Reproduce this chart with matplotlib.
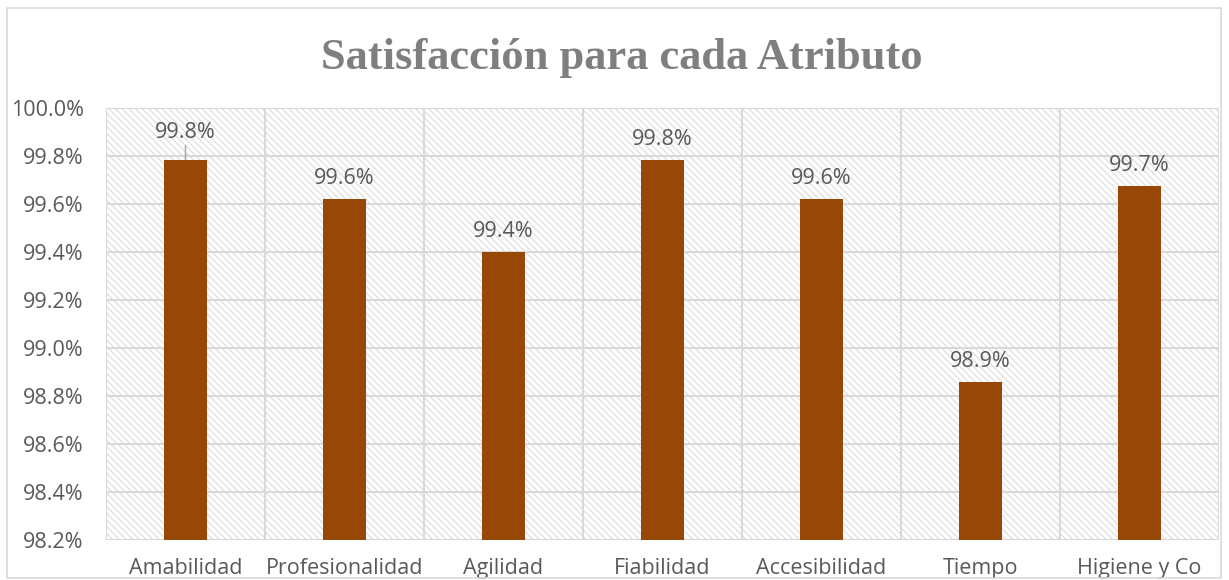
import matplotlib.pyplot as plt
from matplotlib.patches import Rectangle
from matplotlib.ticker import FuncFormatter

categories = ["Amabilidad", "Profesionalidad", "Agilidad", "Fiabilidad",
              "Accesibilidad", "Tiempo", "Higiene y Co"]
values = [99.785, 99.62, 99.40, 99.785, 99.62, 98.86, 99.675]
labels = ["99.8%", "99.6%", "99.4%", "99.8%", "99.6%", "98.9%", "99.7%"]
yticks = [98.2, 98.4, 98.6, 98.8, 99.0, 99.2, 99.4, 99.6, 99.8, 100.0]

plt.rcParams['font.family'] = ['Open Sans', 'DejaVu Sans']
plt.rcParams['hatch.linewidth'] = 0.9
text_col = "#595959"
grid_col = "#d9d9d9"
fs = 15.5

fig = plt.figure(figsize=(12.29, 5.8), dpi=100)
fig.patches.append(Rectangle((7/1229, 2/580), 1214/1229, 570/580,
                             transform=fig.transFigure, fill=False,
                             edgecolor=grid_col, linewidth=1.2))
ax = fig.add_axes([106/1229, 40/580, 1113/1229, 432/580])

x = list(range(len(categories)))
ax.set_xlim(-0.5, len(categories) - 0.5)
ax.set_ylim(98.2, 100.0)

# hatched background
ax.add_patch(Rectangle((0, 0), 1, 1, transform=ax.transAxes, facecolor="white",
                       edgecolor="#dedede", hatch="\\" * 5, linewidth=0, zorder=0))

for b in [i + 0.5 for i in range(-1, len(categories))]:
    ax.axvline(b, color=grid_col, linewidth=1.5, zorder=1)
for t in yticks:
    ax.axhline(t, color=grid_col, linewidth=1.5, zorder=1)

ax.bar(x, [v - 98.2 for v in values], bottom=98.2, width=0.27,
       color="#974706", zorder=3)

for i, (v, lab) in enumerate(zip(values, labels)):
    if i == 0:
        ax.annotate(lab, xy=(i, v), xytext=(0, 12), textcoords="offset points",
                    ha="center", va="bottom", fontsize=fs, color=text_col,
                    arrowprops=dict(arrowstyle="-", color="#a6a6a6", lw=1,
                                    shrinkA=0, shrinkB=0))
    else:
        ax.annotate(lab, xy=(i, v), xytext=(0, 7), textcoords="offset points",
                    ha="center", va="bottom", fontsize=fs, color=text_col)

ax.set_yticks(yticks)
ax.yaxis.set_major_formatter(FuncFormatter(lambda v, p: f"{v:.1f}%"))
ax.set_xticks(x)
ax.set_xticklabels(categories)
ax.tick_params(axis="both", length=0, labelsize=fs, labelcolor=text_col)
ax.tick_params(axis="x", pad=13)
ax.tick_params(axis="y", pad=16)
for s in ax.spines.values():
    s.set_visible(False)

fig.text(0.506, 0.9, "Satisfacción para cada Atributo", ha="center", va="center",
         fontsize=32, fontweight="bold", color="#7f7f7f", family="Liberation Serif")

fig.savefig("out.png", dpi=100)
